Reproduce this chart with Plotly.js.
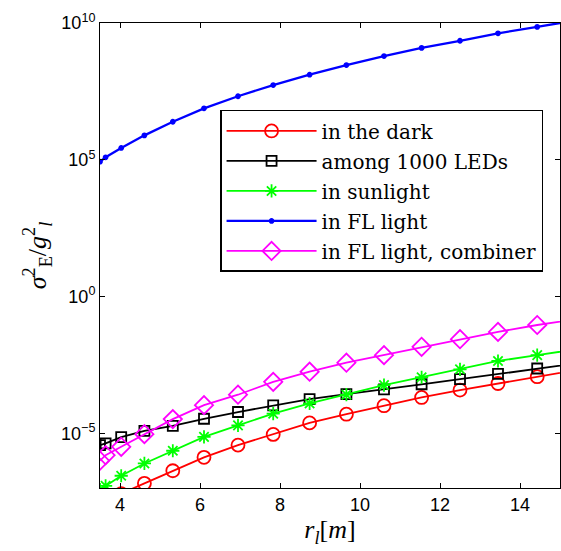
<!DOCTYPE html>
<html>
<head>
<meta charset="utf-8">
<script src="https://cdn.plot.ly/plotly-3.0.1.min.js"></script>
<style>html,body{margin:0;padding:0;background:#fff;}</style>
</head>
<body>
<div id="chart" style="width:561px;height:551px;"></div>
<script>
// distances r_l [m]
const rL = [3.5, 3.64, 4.03, 4.61, 5.32, 6.10, 6.95, 7.83, 8.74, 9.66, 10.6, 11.54, 12.5, 13.45, 14.43, 15.4];
// sigma_E^2 / g_l^2 for each scenario
const inTheDark = [1.78e-8, 2.5e-8, 6.2e-8, 1.48e-7, 4.27e-7, 1.32e-6, 3.7e-6, 9.1e-6, 2.4e-5, 5.0e-5, 1.02e-4, 2.04e-4, 3.8e-4, 6.6e-4, 1.17e-3, 2.04e-3];
const among1000LEDs = [3.7e-6, 4.27e-6, 7.2e-6, 1.23e-5, 1.86e-5, 3.4e-5, 6.0e-5, 1.05e-4, 1.78e-4, 2.7e-4, 4.0e-4, 6.2e-4, 9.5e-4, 1.48e-3, 2.34e-3, 3.55e-3];
const inSunlight = [8.7e-8, 1.2e-7, 2.8e-7, 7.9e-7, 2.3e-6, 7.4e-6, 1.95e-5, 5.2e-5, 1.23e-4, 2.6e-4, 5.75e-4, 1.12e-3, 2.19e-3, 4.4e-3, 7.2e-3, 1.17e-2];
const inFLLight = [8.5e4, 1.23e5, 2.7e5, 7.8e5, 2.45e6, 7.6e6, 2.1e7, 5.4e7, 1.29e8, 2.9e8, 6.2e8, 1.23e9, 2.24e9, 4.2e9, 7.2e9, 1.26e10];
const inFLCombiner = [1.0e-6, 1.58e-6, 3.2e-6, 9.3e-6, 3.3e-5, 1.07e-4, 2.57e-4, 7.6e-4, 1.78e-3, 3.8e-3, 7.2e-3, 1.45e-2, 2.75e-2, 5.1e-2, 9.1e-2, 0.148];
const seriesNames = ['in the dark', 'among 1000 LEDs', 'in sunlight', 'in FL light', 'in FL light, combiner'];
const xTicks = [4, 6, 8, 10, 12, 14];
const yTickVals = [1e-5, 1, 1e5, 1e10];
const yTickText = ['10<sup>−5</sup>', '10<sup>0</sup>', '10<sup>5</sup>', '10<sup>10</sup>'];

function tr(y, name, color, symbol, size, lw, grp) {
  return {
    x: rL, y: y, name: name, type: 'scatter', mode: 'lines+markers',
    legendgroup: grp,
    line: {color: color, width: lw},
    marker: {symbol: symbol, size: size, color: color, line: {color: color, width: 1.8}}
  };
}
const data = [
  tr(inTheDark, seriesNames[0], '#ff0000', 'circle-open', 13, 1.8, 'a'),
  tr(among1000LEDs, seriesNames[1], '#000000', 'square-open', 10, 1.8, 'b'),
  tr(inSunlight, seriesNames[2], '#00ff00', 'asterisk-open', 11, 1.8, 'c'),
  tr(inFLLight, seriesNames[3], '#0000ff', 'circle', 4, 2.3, 'd'),
  tr(inFLCombiner, seriesNames[4], '#ff00ff', 'diamond-open', 14, 1.8, 'e')
];
const tickFont = {family: 'Liberation Sans, Arial, sans-serif', size: 18, color: '#000'};
const layout = {
  width: 561, height: 551,
  margin: {l: 100, r: 1, t: 23, b: 63},
  paper_bgcolor: '#fff', plot_bgcolor: '#fff',
  showlegend: true,
  legend: {
    x: 0.261, y: 0.813, xanchor: 'left', yanchor: 'top',
    bgcolor: '#fff', bordercolor: '#000', borderwidth: 1.5,
    font: {family: 'DejaVu Serif, serif', size: 20, color: '#000'},
    itemwidth: 90, tracegroupgap: 1
  },
  xaxis: {
    range: [3.5, 15], tickvals: xTicks, ticks: 'inside', ticklen: 5, tickcolor: '#000',
    showline: true, linecolor: '#000', linewidth: 1, mirror: 'ticks',
    showgrid: false, zeroline: false, tickfont: tickFont,
    title: {text: '<i>r</i><sub><i>l</i></sub>[<i>m</i>]', font: {family: 'Liberation Serif, serif', size: 26, color: '#000'}, standoff: 6}
  },
  yaxis: {
    type: 'log', range: [-7, 10], tickvals: yTickVals, ticktext: yTickText,
    ticks: 'inside', ticklen: 5, tickcolor: '#000',
    showline: true, linecolor: '#000', linewidth: 1, mirror: 'ticks',
    showgrid: false, zeroline: false, tickfont: tickFont,
    title: {text: '<i>σ</i><sup>2</sup><sub>E</sub>/<i>g</i><sup>2</sup><sub><i>l</i></sub>', font: {family: 'Liberation Serif, serif', size: 26, color: '#000'}, standoff: 6}
  }
};
Plotly.newPlot('chart', data, layout, {displayModeBar: false, staticPlot: true});
</script>
</body>
</html>
